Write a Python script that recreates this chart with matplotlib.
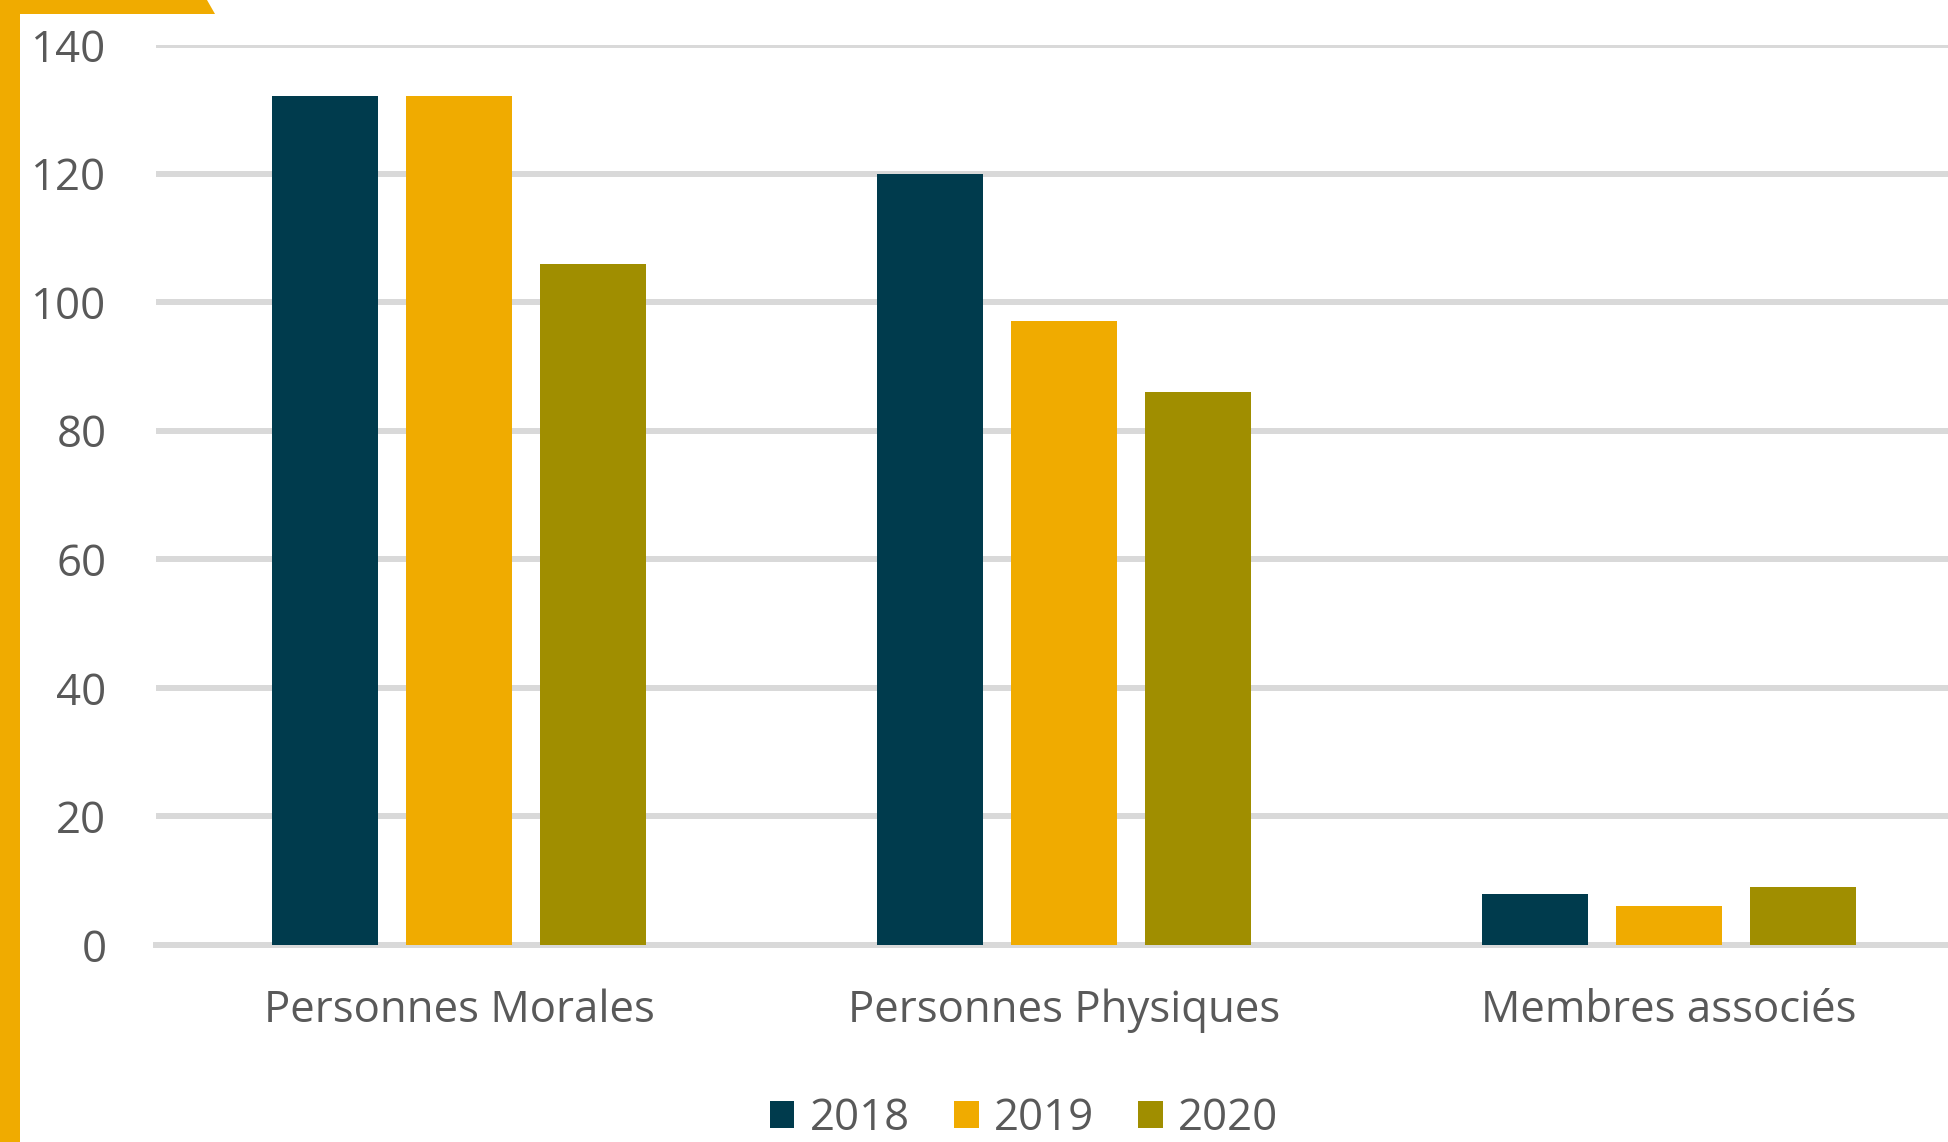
import matplotlib
matplotlib.use("Agg")
import matplotlib.pyplot as plt
from matplotlib.patches import Polygon
import numpy as np

categories = ["Personnes Morales", "Personnes Physiques", "Membres associés"]
years = ["2018", "2019", "2020"]
values_2018 = [132, 120, 8]
values_2019 = [132, 97, 6]
values_2020 = [106, 86, 9]
colors = ["#003B4D", "#F0AB00", "#A08E00"]
yticks = [0, 20, 40, 60, 80, 100, 120, 140]

plt.rcParams['font.family'] = ['Open Sans', 'DejaVu Sans']

W, H = 1949, 1142
FS = 31.5
fig = plt.figure(figsize=(W / 100, H / 100), dpi=100)
fig.patch.set_facecolor("white")

left = 156.5 / W
width = 1815 / W
bottom = (H - 945) / H
height = 900 / H
ax = fig.add_axes([left, bottom, width, height])

x = np.arange(len(categories))
step = 0.2215
bw = 0.1736
series = [values_2018, values_2019, values_2020]
for i, (vals, col, yr) in enumerate(zip(series, colors, years)):
    ax.bar(x + (i - 1) * step, vals, width=bw, color=col, label=yr, zorder=3)

ax.set_xlim(-0.5, 2.5)
ax.set_ylim(0, 140)
ax.set_yticks(yticks)
ax.yaxis.grid(True, color="#D9D9D9", linewidth=4.3, zorder=0)
ax.set_axisbelow(True)
for s in ["top", "right", "left"]:
    ax.spines[s].set_visible(False)
ax.spines["bottom"].set_color("#D9D9D9")
ax.spines["bottom"].set_linewidth(4.3)
ax.spines["bottom"].set_zorder(2)
ax.tick_params(axis="both", length=0, labelsize=FS, labelcolor="#595959")
ax.tick_params(axis="y", pad=36)
ax.tick_params(axis="x", pad=31)
ax.set_xticks(x)
ax.set_xticklabels(categories)

handles, labels = ax.get_legend_handles_labels()
leg = fig.legend(handles, labels, loc="center", bbox_to_anchor=(1024 / W, 1 - 1119 / H),
                 ncol=3, frameon=False, fontsize=FS, handlelength=0.57, handleheight=0.57,
                 handletextpad=0.35, columnspacing=1.0, borderaxespad=0, borderpad=0)
for t in leg.get_texts():
    t.set_color("#595959")

# orange frame on the left / top
frame = Polygon([(0, 1), (207 / W, 1), (215 / W, 1 - 14 / H), (20 / W, 1 - 14 / H),
                 (20 / W, 0), (0, 0)], closed=True, transform=fig.transFigure,
                facecolor="#F0AB00", edgecolor="none", zorder=10)
fig.patches.append(frame)

fig.savefig("out.png", dpi=100)
